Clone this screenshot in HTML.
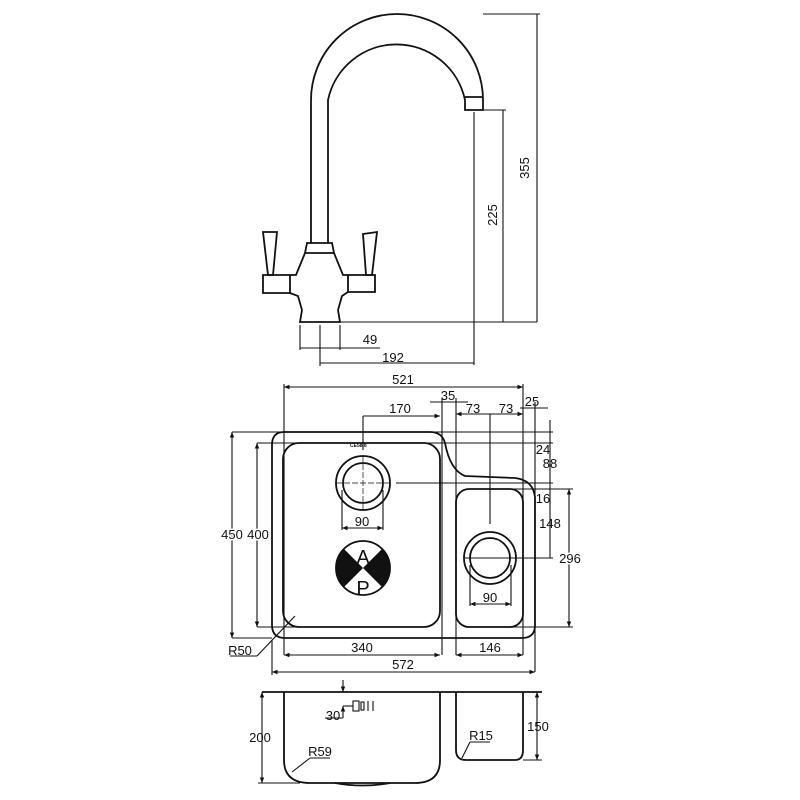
<!DOCTYPE html>
<html><head><meta charset="utf-8"><style>
html,body{margin:0;padding:0;background:#fff}
svg{display:block}
text{font-family:"Liberation Sans",sans-serif;font-size:13px;fill:#111}
</style></head><body>
<svg width="800" height="800" viewBox="0 0 800 800" xmlns="http://www.w3.org/2000/svg">
<defs>
<marker id="a" viewBox="0 0 10 10" refX="10" refY="5" markerWidth="5" markerHeight="5" orient="auto-start-reverse"><path d="M0,1 L10,5 L0,9z" fill="#111"/></marker>
</defs>
<g fill="none" stroke="#111" stroke-width="1.8">
<path d="M311,243 L311,100 A86,86 0 0 1 483,100 L483,110 L465,110 L465,100 A70,70 0 0 0 328,100 L328,243"/>
<line x1="465" y1="97" x2="483" y2="97"/>
<path d="M307,243 L332,243 L334,253 L305,253 Z"/>
<path d="M305,253 L296,275 L290,275 M334,253 L343,275 L348,275"/>
<path d="M263,275 L290,275 L290,293 L263,293 Z"/>
<path d="M348,275 L375,275 L375,292 L348,292 Z"/>
<path d="M290,293 L298,296 L302,310 L300,322 L340,322 L338,310 L342,296 L348,292"/>
<path d="M263,232 L277,232 L273,275 L268,275 Z"/>
<path d="M363,234 L377,232 L372,275 L366,275 Z"/>
<g stroke-width="1.1">
<line x1="340" y1="322" x2="537" y2="322"/>
<line x1="483" y1="110" x2="506" y2="110"/>
<line x1="483" y1="14" x2="540" y2="14"/>
<line x1="537" y1="14" x2="537" y2="322"/>
<line x1="503" y1="110" x2="503" y2="322"/>
<line x1="474" y1="112" x2="474" y2="365"/>
<line x1="300" y1="325" x2="300" y2="350"/>
<line x1="340" y1="325" x2="340" y2="350"/>
<line x1="320" y1="325" x2="320" y2="366"/>
<line x1="300" y1="348" x2="380" y2="348"/>
<line x1="320" y1="363" x2="474" y2="363"/>
</g>
<path d="M284,432 L430,432 Q442,432 445,443 Q450,470 465,476 L515,478 Q533,480 535,497 L535,625 Q535,638 522,638 L285,638 Q272,638 272,625 L272,445 Q272,432 284,432 Z"/>
<rect x="283" y="443" width="157" height="184" rx="16"/>
<rect x="456" y="489" width="67" height="138" rx="13"/>
<circle cx="363" cy="483" r="27"/><circle cx="363" cy="483" r="20"/>
<circle cx="490" cy="558" r="26"/><circle cx="490" cy="558" r="20"/>
<line x1="336" y1="483" x2="390" y2="483" stroke-width="0.7" stroke-dasharray="6,2"/>
<line x1="363" y1="456" x2="363" y2="510" stroke-width="0.7" stroke-dasharray="6,2"/>
<circle cx="363" cy="568" r="27"/>
<g stroke-width="1.1">
<line x1="396" y1="483" x2="553" y2="483"/>
<line x1="490" y1="414" x2="490" y2="524"/>
<line x1="464" y1="558" x2="553" y2="558"/>
<line x1="284" y1="384" x2="284" y2="655"/><line x1="523" y1="384" x2="523" y2="655"/>
<line x1="284" y1="387" x2="523" y2="387" marker-start="url(#a)" marker-end="url(#a)"/>
<line x1="442" y1="398" x2="442" y2="655"/><line x1="456" y1="398" x2="456" y2="655"/>
<line x1="430" y1="402" x2="468" y2="402"/>
<line x1="363" y1="416" x2="440" y2="416" marker-end="url(#a)"/><line x1="363" y1="416" x2="363" y2="450"/>
<line x1="456" y1="414" x2="523" y2="414" marker-start="url(#a)" marker-end="url(#a)"/>
<line x1="535" y1="402" x2="535" y2="672"/>
<line x1="520" y1="408" x2="548" y2="408"/>
<line x1="232" y1="432" x2="553" y2="432"/><line x1="257" y1="443" x2="553" y2="443"/>
<line x1="232" y1="432" x2="232" y2="638" marker-start="url(#a)" marker-end="url(#a)"/>
<line x1="257" y1="443" x2="257" y2="627" marker-start="url(#a)" marker-end="url(#a)"/>
<line x1="232" y1="638" x2="272" y2="638"/><line x1="257" y1="627" x2="300" y2="627"/>
<line x1="550" y1="420" x2="550" y2="558"/>
<line x1="510" y1="489" x2="573" y2="489"/><line x1="510" y1="627" x2="573" y2="627"/>
<line x1="569" y1="489" x2="569" y2="627" marker-start="url(#a)" marker-end="url(#a)"/>
<line x1="342" y1="490" x2="342" y2="530"/><line x1="383" y1="490" x2="383" y2="530"/>
<line x1="342" y1="528" x2="383" y2="528" marker-start="url(#a)" marker-end="url(#a)"/>
<line x1="470" y1="565" x2="470" y2="606"/><line x1="511" y1="565" x2="511" y2="606"/>
<line x1="470" y1="604" x2="511" y2="604" marker-start="url(#a)" marker-end="url(#a)"/>
<line x1="284" y1="655" x2="440" y2="655" marker-start="url(#a)" marker-end="url(#a)"/>
<line x1="456" y1="655" x2="523" y2="655" marker-start="url(#a)" marker-end="url(#a)"/>
<line x1="272" y1="640" x2="272" y2="675"/>
<line x1="272" y1="672" x2="535" y2="672" marker-start="url(#a)" marker-end="url(#a)"/>
<line x1="295" y1="616" x2="257" y2="656"/><line x1="230" y1="656" x2="257" y2="656"/>
</g>
<line x1="262" y1="692" x2="542" y2="692"/>
<path d="M284,692 L284,760 Q284,783 310,783 L415,783 Q440,783 440,760 L440,692"/>
<path d="M335,783 Q362,788 390,783"/>
<path d="M456,692 L456,750 Q456,760 466,760 L515,760 Q523,760 523,750 L523,692"/>
<g stroke-width="1.1">
<line x1="262" y1="692" x2="262" y2="783" marker-start="url(#a)" marker-end="url(#a)"/>
<line x1="258" y1="783" x2="300" y2="783"/>
<line x1="537" y1="692" x2="537" y2="760" marker-start="url(#a)" marker-end="url(#a)"/>
<line x1="523" y1="760" x2="542" y2="760"/>
<line x1="343" y1="680" x2="343" y2="692" marker-end="url(#a)"/>
<line x1="343" y1="718" x2="343" y2="706" marker-end="url(#a)"/>
<line x1="343" y1="706" x2="353" y2="706"/><line x1="325" y1="718" x2="343" y2="718"/>
<rect x="353" y="701" width="6" height="10"/><rect x="361" y="702" width="3" height="8"/>
<line x1="368" y1="701" x2="368" y2="711"/><line x1="373" y1="701" x2="373" y2="711"/>
<line x1="292" y1="772" x2="310" y2="758"/><line x1="310" y1="758" x2="330" y2="758"/>
<line x1="462" y1="758" x2="470" y2="742"/><line x1="470" y1="742" x2="490" y2="742"/>
</g>
</g>
<path d="M344,549 L382,587 A27,27 0 0 0 382,549 L344,587 A27,27 0 0 1 344,549 Z" fill="#111"/>
<text x="363" y="564" text-anchor="middle" style="font-size:20px">A</text>
<text x="363" y="595" text-anchor="middle" style="font-size:20px">P</text>
<text x="350" y="447" style="font-size:5px;font-weight:bold">CE58 8</text>
<g>
<text x="529" y="168" transform="rotate(-90 529 168)" text-anchor="middle">355</text>
<text x="497" y="215" transform="rotate(-90 497 215)" text-anchor="middle">225</text>
<text x="370" y="344" text-anchor="middle">49</text>
<text x="393" y="362" text-anchor="middle">192</text>
<text x="403" y="384" text-anchor="middle">521</text>
<text x="448" y="400" text-anchor="middle">35</text>
<text x="400" y="413" text-anchor="middle">170</text>
<text x="473" y="413" text-anchor="middle">73</text>
<text x="506" y="413" text-anchor="middle">73</text>
<text x="532" y="406" text-anchor="middle">25</text>
<text x="543" y="454" text-anchor="middle">24</text>
<text x="550" y="468" text-anchor="middle">88</text>
<text x="543" y="503" text-anchor="middle">16</text>
<text x="550" y="528" text-anchor="middle">148</text>
<text x="570" y="563" text-anchor="middle" style="paint-order:stroke;stroke:#fff;stroke-width:3px">296</text>
<text x="232" y="539" text-anchor="middle" style="paint-order:stroke;stroke:#fff;stroke-width:3px">450</text>
<text x="258" y="539" text-anchor="middle" style="paint-order:stroke;stroke:#fff;stroke-width:3px">400</text>
<text x="362" y="526" text-anchor="middle">90</text>
<text x="490" y="602" text-anchor="middle">90</text>
<text x="362" y="652" text-anchor="middle">340</text>
<text x="490" y="652" text-anchor="middle">146</text>
<text x="403" y="669" text-anchor="middle">572</text>
<text x="240" y="655" text-anchor="middle">R50</text>
<text x="260" y="742" text-anchor="middle">200</text>
<text x="538" y="731" text-anchor="middle">150</text>
<text x="333" y="720" text-anchor="middle">30</text>
<text x="320" y="756" text-anchor="middle">R59</text>
<text x="481" y="740" text-anchor="middle">R15</text>
</g>
</svg>
</body></html>
